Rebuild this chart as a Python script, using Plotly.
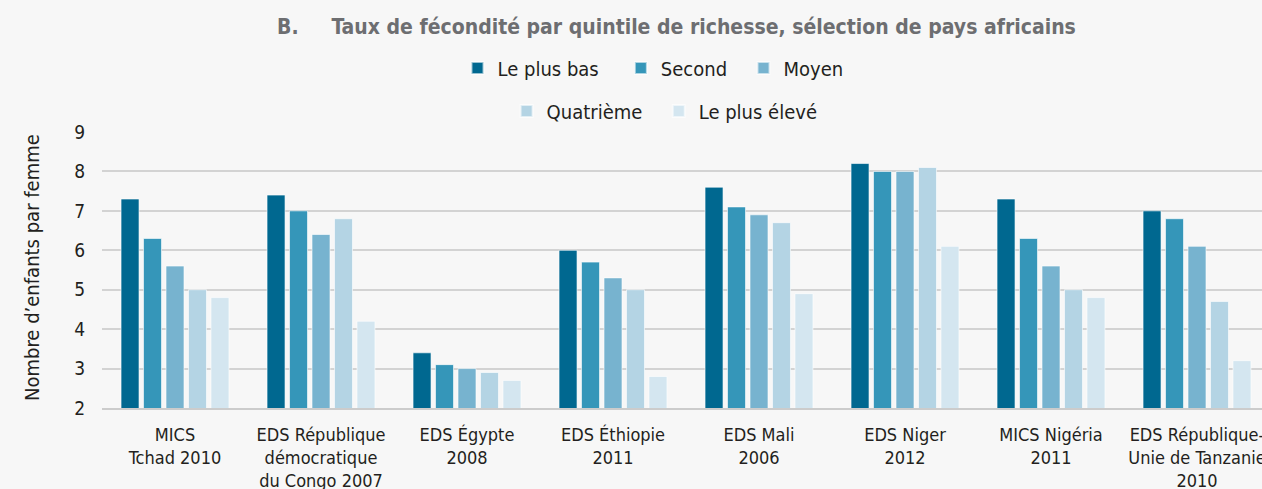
import plotly.graph_objects as go

categories = [
    "MICS<br>Tchad 2010",
    "EDS République<br>démocratique<br>du Congo 2007",
    "EDS Égypte<br>2008",
    "EDS Éthiopie<br>2011",
    "EDS Mali<br>2006",
    "EDS Niger<br>2012",
    "MICS Nigéria<br>2011",
    "EDS République-<br>Unie de Tanzanie<br>2010",
]
series_names = ["Le plus bas", "Second", "Moyen", "Quatrième", "Le plus élevé"]
le_plus_bas = [7.3, 7.4, 3.4, 6.0, 7.6, 8.2, 7.3, 7.0]
second = [6.3, 7.0, 3.1, 5.7, 7.1, 8.0, 6.3, 6.8]
moyen = [5.6, 6.4, 3.0, 5.3, 6.9, 8.0, 5.6, 6.1]
quatrieme = [5.0, 6.8, 2.9, 5.0, 6.7, 8.1, 5.0, 4.7]
le_plus_eleve = [4.8, 4.2, 2.7, 2.8, 4.9, 6.1, 4.8, 3.2]
y_ticks = [2, 3, 4, 5, 6, 7, 8, 9]

colors = ["#006890", "#3596b9", "#77b3cf", "#b4d4e4", "#d4e6f0"]
series = [le_plus_bas, second, moyen, quatrieme, le_plus_eleve]
legend_pad = ["\u00a0\u00a0\u00a0", "\u00a0\u00a0", "", "\u00a0\u00a0", ""]

FONT = "Liberation Sans Narrow, DejaVu Sans Condensed, Roboto, sans-serif"

fig = go.Figure()
for i, (name, vals) in enumerate(zip(series_names, series)):
    fig.add_trace(go.Bar(
        x=list(range(len(categories))), y=vals, name=name + legend_pad[i],
        marker=dict(color=colors[i], line=dict(color="rgba(255,255,255,0.6)", width=1)),
        legend="legend" if i < 3 else "legend2",
    ))

fig.update_layout(
    width=1262, height=489,
    margin=dict(l=102, r=0, t=132, b=81),
    paper_bgcolor="#f7f7f7", plot_bgcolor="#f7f7f7",
    barmode="group", bargap=0.23, bargroupgap=0.2,
    font=dict(family=FONT, color="#231f20", size=16),
    title=dict(
        text="<b>B.     Taux de fécondité par quintile de richesse, sélection de pays africains</b>",
        font=dict(family=FONT, size=21, color="#6d6e71"),
        x=0.536, xref="container", xanchor="center",
        y=1 - 27 / 489, yref="container", yanchor="middle",
    ),
    legend=dict(
        orientation="h", x=0.475, xanchor="center", y=1.232, yanchor="middle",
        font=dict(family=FONT, size=20, color="#231f20"), bgcolor="rgba(0,0,0,0)",
        itemsizing="constant",
    ),
    legend2=dict(
        orientation="h", x=0.485, xanchor="center", y=1.076, yanchor="middle",
        font=dict(family=FONT, size=20, color="#231f20"), bgcolor="rgba(0,0,0,0)",
        itemsizing="constant",
    ),
    showlegend=True,
)
fig.update_xaxes(
    tickmode="array", tickvals=list(range(len(categories))), ticktext=categories,
    range=[-0.5, -0.5 + 1160 / 146], showgrid=False, zeroline=False,
    showline=True, linecolor="#cccccc", linewidth=2,
    ticks="", ticklabelstandoff=9, automargin=False, ticklabeloverflow="allow",
    tickfont=dict(family=FONT, size=18, color="#231f20"),
)
fig.update_yaxes(
    range=[2, 9], tickvals=y_ticks, showgrid=True, gridcolor="#d3d3d3", gridwidth=2,
    zeroline=False, showline=False, ticks="", ticklabelstandoff=16, automargin=False,
    tickfont=dict(family=FONT, size=19, color="#231f20"),
)
fig.add_annotation(
    text="Nombre d’enfants par femme", textangle=-90,
    x=(18 - 102) / 1160, y=(408 - 268) / 276, xref="paper", yref="paper",
    showarrow=False, font=dict(family=FONT, size=20, color="#231f20"),
)
fig.write_html(
    "out.html",
    config={"displayModeBar": False},
    post_script="document.body.style.margin='0';document.body.style.overflow='hidden';",
)
